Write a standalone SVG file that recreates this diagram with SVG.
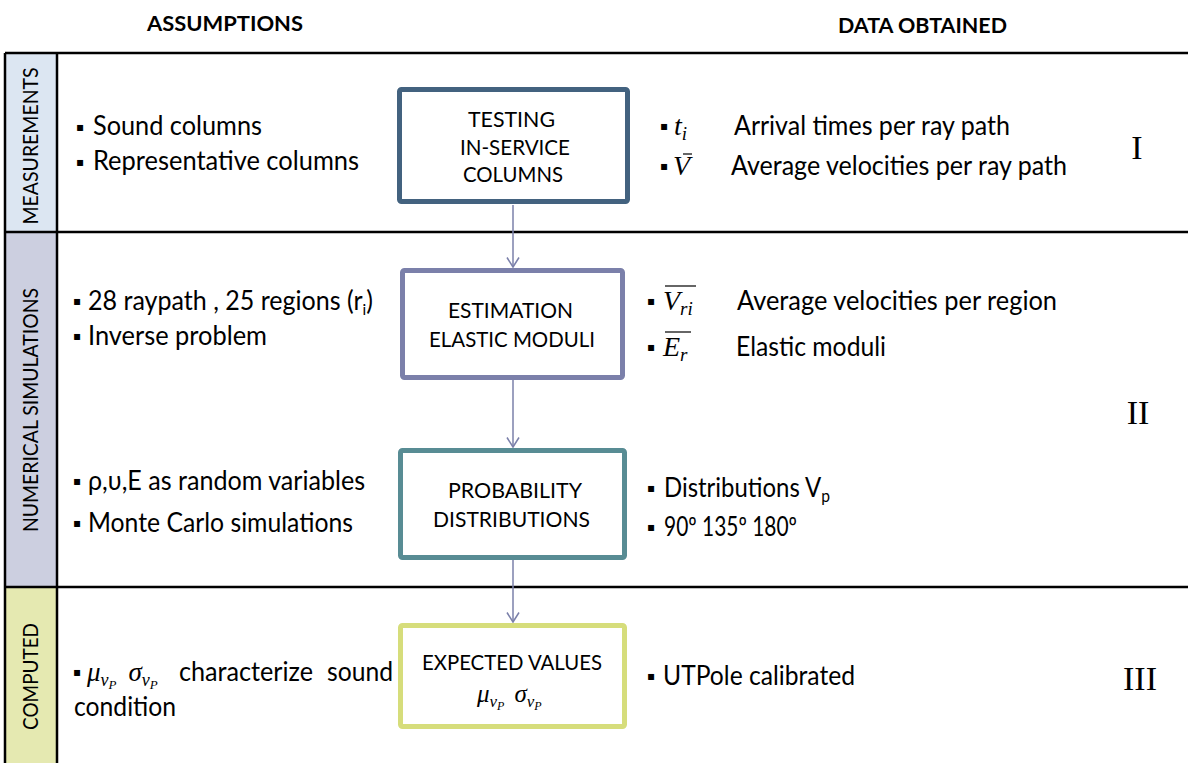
<svg xmlns="http://www.w3.org/2000/svg" width="1188" height="763" viewBox="0 0 1188 763">
<style>
.t { font-family: Lato, "Liberation Sans", sans-serif; font-size: 26px; fill: #000; }
.hd { font-weight: bold; font-size: 21px; }
.bx { font-size: 22px; }
.side { font-size: 21px; text-anchor: middle; }
.m { font-family: "Liberation Serif", "DejaVu Serif", serif; font-style: italic; fill: #000; }
.rn { font-family: "Liberation Serif", "DejaVu Serif", serif; font-size: 34px; text-anchor: middle; fill: #000; }
.b { font-family: "DejaVu Sans", sans-serif; font-size: 12px; fill: #000; }
.lane { stroke: #000; stroke-width: 2.5; fill: none; }
.node { fill: #fff; stroke-width: 5; }
.conn { stroke: #7B80AA; stroke-width: 1.5; fill: none; marker-end: url(#ah); }
.bar { stroke: #000; stroke-width: 1.2; }
</style>
<defs>
<marker id="ah" viewBox="0 0 12 14" refX="10.5" refY="7" markerWidth="12" markerHeight="14" markerUnits="userSpaceOnUse" orient="auto">
<path d="M1,1 L10.5,7 L1,13" fill="none" stroke="#7B80AA" stroke-width="1.5"/>
</marker>
</defs>
<rect width="1188" height="763" fill="#fff"/>
<g id="lanes">
<rect x="5" y="53" width="52" height="179" fill="#DCE6F2"/>
<rect x="5" y="232" width="52" height="355" fill="#CCCFE0"/>
<rect x="5" y="587" width="52" height="176" fill="#E5E9B1"/>
<line class="lane" x1="5" y1="53" x2="1188" y2="53"/>
<line class="lane" x1="5" y1="232" x2="1188" y2="232"/>
<line class="lane" x1="5" y1="587" x2="1188" y2="587"/>
<line class="lane" x1="5" y1="53" x2="5" y2="763"/>
<line class="lane" x1="57" y1="53" x2="57" y2="763"/>
<text class="t side" transform="translate(38,146) rotate(-90)" textLength="157" lengthAdjust="spacingAndGlyphs">MEASUREMENTS</text>
<text class="t side" transform="translate(38,410) rotate(-90)" textLength="244" lengthAdjust="spacingAndGlyphs">NUMERICAL SIMULATIONS</text>
<text class="t side" transform="translate(38,676.5) rotate(-90)" textLength="107" lengthAdjust="spacingAndGlyphs">COMPUTED</text>
</g>
<g id="headers">
<text class="t hd" x="147" y="31" textLength="156" lengthAdjust="spacingAndGlyphs">ASSUMPTIONS</text>
<text class="t hd" x="838" y="33" textLength="169" lengthAdjust="spacingAndGlyphs">DATA OBTAINED</text>
</g>
<g id="connectors">
<line class="conn" x1="513" y1="205" x2="513" y2="267"/>
<line class="conn" x1="513" y1="380" x2="513" y2="447"/>
<line class="conn" x1="513" y1="560" x2="513" y2="622"/>
</g>
<g id="node-testing">
<rect class="node" x="399.5" y="89.5" width="228" height="112" rx="2" stroke="#43627F"/>
<text class="t bx" x="468" y="127" textLength="87" lengthAdjust="spacingAndGlyphs">TESTING</text>
<text class="t bx" x="460" y="155" textLength="110" lengthAdjust="spacingAndGlyphs">IN-SERVICE</text>
<text class="t bx" x="463" y="182" textLength="100" lengthAdjust="spacingAndGlyphs">COLUMNS</text>
</g>
<g id="node-estimation">
<rect class="node" x="402.5" y="270.5" width="220" height="107" rx="2" stroke="#7B80AA"/>
<text class="t bx" x="448" y="318" textLength="125" lengthAdjust="spacingAndGlyphs">ESTIMATION</text>
<text class="t bx" x="429" y="347" textLength="166" lengthAdjust="spacingAndGlyphs">ELASTIC MODULI</text>
</g>
<g id="node-probability">
<rect class="node" x="400.5" y="450.5" width="224" height="107" rx="2" stroke="#588C94"/>
<text class="t bx" x="448" y="498" textLength="134" lengthAdjust="spacingAndGlyphs">PROBABILITY</text>
<text class="t bx" x="433" y="527" textLength="157" lengthAdjust="spacingAndGlyphs">DISTRIBUTIONS</text>
</g>
<g id="node-expected">
<rect class="node" x="400.5" y="625.5" width="224" height="101" rx="2" stroke="#D6DD7B"/>
<text class="t bx" x="422" y="670" textLength="180" lengthAdjust="spacingAndGlyphs">EXPECTED VALUES</text>
<text class="m" x="477" y="702" font-size="25">μ<tspan font-size="17" dy="5">v</tspan><tspan font-size="12" dy="3">P</tspan><tspan dy="-8" dx="10" font-size="25">σ</tspan><tspan font-size="17" dy="5">v</tspan><tspan font-size="12" dy="3">P</tspan></text>
</g>
<g id="assumptions">
<text class="b" x="76" y="131">▪</text>
<text class="t" x="93" y="135" textLength="169" lengthAdjust="spacingAndGlyphs">Sound columns</text>
<text class="b" x="76" y="166">▪</text>
<text class="t" x="93" y="170" textLength="266" lengthAdjust="spacingAndGlyphs">Representative columns</text>
<text class="b" x="73" y="305">▪</text>
<text class="t" x="88" y="310" textLength="285" lengthAdjust="spacingAndGlyphs">28 raypath , 25 regions (r<tspan font-size="16" dy="5">i</tspan><tspan dy="-5">)</tspan></text>
<text class="b" x="73" y="340">▪</text>
<text class="t" x="88" y="345" textLength="179" lengthAdjust="spacingAndGlyphs">Inverse problem</text>
<text class="b" x="73" y="485">▪</text>
<text class="t" x="88" y="490" textLength="277" lengthAdjust="spacingAndGlyphs">ρ,υ,E  as random variables</text>
<text class="b" x="73" y="527">▪</text>
<text class="t" x="88" y="532" textLength="265" lengthAdjust="spacingAndGlyphs">Monte Carlo simulations</text>
<text class="b" x="73" y="676">▪</text>
<text class="m" x="87" y="681" font-size="27">μ<tspan font-size="18" dy="5">v</tspan><tspan font-size="13" dy="3">P</tspan><tspan dy="-8" dx="12" font-size="27">σ</tspan><tspan font-size="18" dy="5">v</tspan><tspan font-size="13" dy="3">P</tspan></text>
<text class="t" x="179" y="681" textLength="134" lengthAdjust="spacingAndGlyphs">characterize</text>
<text class="t" x="327" y="681" textLength="66" lengthAdjust="spacingAndGlyphs">sound</text>
<text class="t" x="74" y="716" textLength="102" lengthAdjust="spacingAndGlyphs">condition</text>
</g>
<g id="data">
<text class="b" x="660" y="130">▪</text>
<text class="m" x="674" y="135" font-size="28">t<tspan font-size="19" dy="5">i</tspan></text>
<text class="t" x="734" y="135" textLength="276" lengthAdjust="spacingAndGlyphs">Arrival times per ray path</text>
<text class="b" x="660" y="170">▪</text>
<text class="m" x="673" y="175" font-size="28">V</text>
<line class="bar" x1="683" y1="154" x2="692" y2="154"/>
<text class="t" x="731" y="175" textLength="336" lengthAdjust="spacingAndGlyphs">Average velocities per ray path</text>
<text class="b" x="647" y="305">▪</text>
<text class="m" x="663" y="310" font-size="28">V<tspan font-size="19" dy="5">ri</tspan></text>
<line class="bar" x1="665" y1="286" x2="696" y2="286"/>
<text class="t" x="737" y="310" textLength="320" lengthAdjust="spacingAndGlyphs">Average velocities per region</text>
<text class="b" x="647" y="351">▪</text>
<text class="m" x="663" y="356" font-size="28">E<tspan font-size="19" dy="5">r</tspan></text>
<line class="bar" x1="665" y1="332" x2="691" y2="332"/>
<text class="t" x="736" y="356" textLength="150" lengthAdjust="spacingAndGlyphs">Elastic moduli</text>
<text class="b" x="647" y="492">▪</text>
<text class="t" x="664" y="497" textLength="166" lengthAdjust="spacingAndGlyphs">Distributions V<tspan font-size="17" dy="5">p</tspan></text>
<text class="b" x="647" y="531">▪</text>
<text class="t" x="664" y="536" textLength="133" lengthAdjust="spacingAndGlyphs">90º 135º 180º</text>
<text class="b" x="647" y="680">▪</text>
<text class="t" x="663" y="685" textLength="192" lengthAdjust="spacingAndGlyphs">UTPole calibrated</text>
</g>
<g id="levels">
<text class="rn" x="1137" y="159">I</text>
<text class="rn" x="1138" y="424">II</text>
<text class="rn" x="1140" y="690">III</text>
</g>
</svg>
